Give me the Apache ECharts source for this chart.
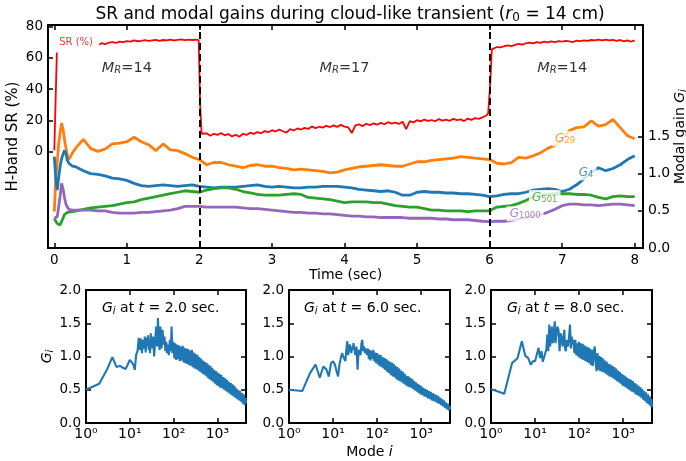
<!DOCTYPE html>
<html><head><meta charset="utf-8">
<script src="https://cdn.jsdelivr.net/npm/echarts@6/dist/echarts.min.js"></script>
<style>html,body{margin:0;padding:0;background:#fff}#c{width:686px;height:461px}</style>
</head><body><div id="c"></div>
<script>
// ---------- Top panel data ----------
const timeTicks = [0,1,2,3,4,5,6,7,8];
const srTicks = [0,20,40,60,80];
const gainTicks = [0,0.5,1.0,1.5];
const transitionTimes = [2, 6];

// SR (%) vs time [t, SR]
const srData = [
[0.0,1],[0.035,63.5],[0.3,null],
[0.62,68.5],[0.65,69.5],[0.70,68.8],[0.75,69.8],[0.80,70.2],[0.85,69.6],[0.90,70.5],[0.95,70.1],[1.00,70.8],[1.05,70.4],
[1.10,71.2],[1.15,70.7],[1.20,71.0],[1.25,71.4],[1.30,70.9],[1.35,71.3],[1.40,71.6],[1.45,71.0],[1.50,71.5],[1.55,71.2],
[1.60,71.8],[1.65,71.3],[1.70,71.6],[1.75,71.9],[1.80,71.4],[1.85,71.7],[1.90,71.5],[1.95,71.8],[1.99,71.4],
[2.01,30],[2.03,11.5],[2.05,10.5],[2.10,11.8],[2.15,10.2],[2.20,11.5],[2.25,10.8],[2.30,12.0],[2.35,10.6],[2.40,11.3],
[2.45,9.8],[2.50,10.9],[2.55,9.6],[2.60,11.5],[2.65,10.7],[2.70,12.2],[2.75,11.4],[2.80,12.6],[2.85,11.8],[2.90,13.2],
[2.95,12.5],[3.00,13.8],[3.05,12.9],[3.10,14.2],[3.15,13.1],[3.20,12.2],[3.25,14.5],[3.30,13.6],[3.35,14.9],[3.40,14.2],
[3.45,15.3],[3.50,14.6],[3.55,16.2],[3.60,15.1],[3.65,16.0],[3.70,15.4],[3.75,16.6],[3.80,15.8],[3.85,16.9],[3.90,15.9],
[3.95,17.2],[4.00,16.1],[4.05,15.6],[4.10,12.0],[4.15,16.8],[4.20,17.5],[4.25,16.4],[4.30,17.9],[4.35,17.0],[4.40,18.2],
[4.45,17.3],[4.50,18.5],[4.55,17.6],[4.60,18.9],[4.65,18.0],[4.70,18.6],[4.75,17.8],[4.80,19.2],[4.85,14.5],[4.90,19.6],
[4.95,18.8],[5.00,20.2],[5.05,19.4],[5.10,20.6],[5.15,19.7],[5.20,20.3],[5.25,19.5],[5.30,20.9],[5.35,19.9],[5.40,20.5],
[5.45,19.8],[5.50,21.0],[5.55,20.2],[5.60,20.7],[5.65,19.6],[5.70,21.2],[5.75,20.4],[5.80,21.5],[5.85,21.0],[5.90,22.0],
[5.95,23.0],[5.98,24.5],[6.01,45],[6.03,65.5],
[6.05,66.3],[6.10,67.0],[6.15,66.8],[6.20,67.5],[6.25,68.0],[6.30,67.6],[6.35,68.4],[6.40,69.0],[6.45,68.5],[6.50,69.4],
[6.55,69.8],[6.60,69.3],[6.65,70.1],[6.70,69.7],[6.75,70.4],[6.80,70.0],[6.85,70.6],[6.90,70.2],[6.95,70.8],[7.00,70.4],
[7.05,71.0],[7.10,70.6],[7.15,70.2],[7.20,71.1],[7.25,70.8],[7.30,71.3],[7.35,71.0],[7.40,71.5],[7.45,71.2],[7.50,71.7],
[7.55,71.3],[7.60,71.8],[7.65,71.2],[7.70,71.6],[7.75,71.0],[7.80,71.5],[7.85,70.6],[7.90,71.3],[7.95,70.4],[8.00,71.2]
];

const gainTime = [
0,0.02,0.04,0.06,0.08,0.1,0.12,0.14,0.16,0.18,
0.2,0.25,0.3,0.4,0.5,0.6,0.7,0.8,0.9,1.0,
1.1,1.2,1.3,1.4,1.5,1.6,1.7,1.8,1.9,2.0,
2.1,2.2,2.3,2.4,2.5,2.6,2.7,2.8,2.9,3.0,
3.1,3.2,3.3,3.4,3.5,3.6,3.7,3.8,3.9,4.0,
4.1,4.2,4.3,4.4,4.5,4.6,4.7,4.8,4.9,5.0,
5.1,5.2,5.3,5.4,5.5,5.6,5.7,5.8,5.9,6.0,
6.1,6.2,6.3,6.4,6.5,6.6,6.7,6.8,6.9,7.0,
7.1,7.2,7.3,7.4,7.5,7.6,7.7,7.8,7.9,8.0
];
const g29 = [
0.49,0.95,1.15,1.40,1.55,1.68,1.60,1.46,1.35,1.25,
1.19,1.28,1.35,1.46,1.34,1.30,1.33,1.40,1.41,1.43,
1.49,1.43,1.39,1.31,1.40,1.32,1.31,1.27,1.22,1.19,
1.12,1.15,1.15,1.12,1.10,1.08,1.11,1.12,1.10,1.10,
1.08,1.07,1.05,1.06,1.05,1.04,1.03,1.01,1.02,1.05,
1.07,1.09,1.10,1.11,1.12,1.11,1.10,1.10,1.13,1.16,
1.16,1.18,1.19,1.20,1.21,1.23,1.22,1.21,1.20,1.19,
1.14,1.13,1.15,1.22,1.21,1.24,1.28,1.34,1.38,1.45,
1.58,1.62,1.63,1.71,1.64,1.66,1.73,1.62,1.51,1.47
];
const g4 = [
1.23,0.95,0.78,0.95,1.10,1.20,1.26,1.31,1.27,1.18,
1.14,1.10,1.09,1.04,1.00,0.99,0.97,0.94,0.93,0.91,
0.87,0.84,0.83,0.84,0.85,0.84,0.83,0.84,0.85,0.83,
0.82,0.81,0.82,0.82,0.82,0.83,0.84,0.85,0.83,0.82,
0.83,0.82,0.81,0.81,0.82,0.82,0.83,0.83,0.83,0.82,
0.81,0.79,0.78,0.77,0.76,0.77,0.75,0.71,0.71,0.75,
0.76,0.75,0.75,0.74,0.74,0.73,0.73,0.72,0.71,0.69,
0.70,0.72,0.73,0.73,0.75,0.78,0.79,0.80,0.79,0.76,
0.79,0.85,0.93,1.02,1.08,1.04,1.07,1.12,1.19,1.24
];
const g501 = [
0.40,0.36,0.33,0.31,0.31,0.31,0.40,0.45,0.47,0.48,
0.48,0.49,0.50,0.52,0.54,0.55,0.56,0.57,0.59,0.61,
0.62,0.65,0.67,0.69,0.71,0.73,0.75,0.77,0.76,0.75,
0.78,0.80,0.81,0.81,0.79,0.76,0.74,0.72,0.71,0.71,
0.71,0.72,0.73,0.72,0.68,0.67,0.66,0.65,0.63,0.61,
0.62,0.62,0.62,0.61,0.61,0.59,0.57,0.56,0.55,0.55,
0.53,0.51,0.51,0.50,0.50,0.50,0.49,0.50,0.50,0.50,
0.55,0.56,0.57,0.60,0.64,0.69,0.71,0.72,0.73,0.73,
0.73,0.72,0.72,0.71,0.68,0.66,0.69,0.70,0.69,0.69
];
const g1000 = [
0.40,0.38,0.42,0.55,0.70,0.87,0.80,0.68,0.59,0.55,
0.52,0.51,0.51,0.51,0.51,0.50,0.50,0.48,0.47,0.47,
0.47,0.48,0.48,0.49,0.50,0.51,0.53,0.56,0.56,0.56,
0.55,0.55,0.55,0.55,0.55,0.54,0.53,0.53,0.52,0.51,
0.50,0.49,0.48,0.48,0.47,0.47,0.46,0.46,0.45,0.44,
0.43,0.43,0.42,0.42,0.41,0.41,0.41,0.41,0.40,0.40,
0.40,0.40,0.39,0.39,0.38,0.38,0.38,0.37,0.36,0.355,
0.36,0.36,0.37,0.39,0.41,0.43,0.45,0.48,0.52,0.57,
0.59,0.59,0.58,0.58,0.57,0.58,0.59,0.59,0.58,0.57
];

// inline labels (data coordinates)
const srLabelPos = [0.30, 70.2];
const gainLabelTime = [7.04, 7.33, 6.76, 6.49];
const gainLabelValue = [1.47, 1.01, 0.68, 0.46];
const gainLabelSub = ['29', '4', '501', '1000'];
const mrTime = [1.0, 4.0, 7.0];
const mrValue = [53.6, 53.6, 53.6];
const mrText = ['14', '17', '14'];

// ---------- Bottom panels data ----------
const modeTicks = [1, 10, 100, 1000];
const modalTickLabels = ['0.0', '0.5', '1.0', '1.5', '2.0'];
const snapshotTimes = ['2.0', '6.0', '8.0'];
const modes = [
1,2,3,4,5,6,7,8,9,10,11,12,13,14,15,16,17,18,19,20,
21,22,23,24,25,26,27,28,29,30,
32,34,36,38,40,42,44,46,48,50,
53,56,59,
62,65,68,71,74,78,82,86,90,94,
99,104,109,114,120,126,132,139,146,153,161,169,177,186,195,
205,215,226,237,249,261,274,288,302,
317,333,350,367,385,404,424,445,467,490,
515,541,568,596,626,657,690,724,760,798,838,880,924,970,
1018,1069,1122,1178,1237,1299,1364,1432,1504,1579,1658,1741,1828,1919,
2015,2116,2222,2333,2450,2572,2701,2836,
2978,3127,3283,3447,3619,3800,3990,4190,4400,4500
];
const gainsT2 = [
0.50,0.59,0.80,0.99,0.84,0.86,0.83,0.81,0.88,0.95,0.94,0.88,0.80,1.03,1.08,1.28,1.10,1.27,1.05,1.25,
1.12,1.30,1.06,1.28,1.15,1.32,1.10,1.25,1.05,1.35,
1.12,1.30,1.00,1.25,1.45,1.15,1.58,1.20,1.10,1.45,
1.12,1.40,1.18,
1.30,1.08,1.22,1.05,1.18,1.02,1.25,1.08,1.45,1.05,
1.22,0.97,1.20,0.95,1.18,0.96,1.17,0.93,1.15,0.94,1.16,0.91,1.13,0.90,1.12,
0.89,1.11,0.87,1.09,0.86,1.10,0.84,1.06,0.82,
1.04,0.81,1.02,0.79,0.99,0.77,0.97,0.75,0.94,0.73,
0.92,0.71,0.90,0.68,0.88,0.66,0.86,0.64,0.83,0.62,0.80,0.59,0.78,0.57,
0.76,0.55,0.74,0.53,0.72,0.52,0.69,0.50,0.67,0.48,0.65,0.46,0.62,0.44,
0.60,0.42,0.58,0.40,0.56,0.38,0.52,0.36,
0.50,0.34,0.48,0.32,0.45,0.29,0.43,0.27,0.38,0.30
];
const gainsT6 = [
0.50,0.48,0.75,0.88,0.68,0.85,0.81,0.70,0.90,0.93,0.88,0.78,0.70,0.88,0.98,1.05,1.00,1.03,0.93,1.10,
1.23,1.02,1.00,1.18,1.20,1.05,1.15,1.10,1.20,1.18,
1.02,1.15,0.80,1.10,1.13,1.02,1.20,1.25,1.08,1.15,
1.05,1.12,1.02,
1.12,0.96,1.10,0.94,1.08,0.97,1.10,0.93,1.06,0.90,
1.05,0.88,1.03,0.86,1.02,0.84,0.99,0.82,0.98,0.80,0.96,0.77,0.94,0.75,0.92,
0.72,0.91,0.70,0.89,0.69,0.86,0.66,0.84,0.64,
0.82,0.63,0.79,0.61,0.77,0.59,0.74,0.57,0.71,0.55,
0.70,0.54,0.68,0.53,0.66,0.51,0.63,0.49,0.61,0.47,0.59,0.45,0.57,0.43,
0.55,0.42,0.53,0.40,0.51,0.39,0.50,0.37,0.48,0.36,0.47,0.34,0.45,0.33,
0.43,0.32,0.42,0.30,0.40,0.29,0.38,0.27,
0.36,0.25,0.34,0.23,0.31,0.21,0.29,0.19,0.26,0.20
];
const gainsT8 = [
0.51,0.44,0.90,0.975,1.23,1.01,0.975,0.875,0.93,0.93,0.92,1.13,0.975,1.08,0.92,0.95,1.05,1.10,1.33,1.08,
1.48,1.15,1.30,1.45,1.20,1.25,1.40,1.53,1.20,1.28,
1.45,1.40,1.08,1.35,1.30,1.15,1.25,1.40,1.12,1.08,
1.25,1.15,1.30,
1.48,1.12,1.30,1.18,1.25,1.05,1.25,1.02,1.20,1.00,
1.22,0.98,1.20,0.96,1.19,0.95,1.17,0.93,1.15,0.92,1.14,0.90,1.12,0.87,1.10,
0.86,1.08,1.15,0.90,0.78,1.05,0.80,1.01,0.78,
0.99,0.77,0.97,0.76,0.94,0.74,0.92,0.72,0.89,0.70,
0.88,0.69,0.86,0.67,0.84,0.65,0.82,0.63,0.79,0.61,0.77,0.59,0.74,0.56,
0.72,0.55,0.70,0.53,0.68,0.51,0.66,0.49,0.65,0.47,0.63,0.46,0.60,0.43,
0.58,0.42,0.56,0.40,0.54,0.38,0.51,0.35,
0.48,0.33,0.46,0.30,0.43,0.28,0.40,0.25,0.36,0.24
];

// ---------- Chart ----------
const F = 'DejaVu Sans';
const BLACK = '#000';
const COLORS = {sr:'#ff0000', g29:'#ff7f0e', g4:'#1f77b4', g501:'#2ca02c', g1000:'#9467bd'};

function mkRich(size, color) {
  return {
    it:   {fontFamily:F, fontSize:size, fontStyle:'italic', color:color},
    rm:   {fontFamily:F, fontSize:size, color:color},
    sub:  {fontFamily:F, fontSize:Math.round(size*0.7), color:color, verticalAlign:'bottom', lineHeight:Math.round(size*1.05)},
    isub: {fontFamily:F, fontSize:Math.round(size*0.7), fontStyle:'italic', color:color, verticalAlign:'bottom', lineHeight:Math.round(size*1.05)}
  };
}
const lineAxis = {show:true, onZero:false, lineStyle:{color:BLACK, width:2}};
const tickStyle = (vals) => ({show:true, inside:true, length:5, customValues:vals, lineStyle:{color:BLACK, width:1.5}});
const tickStyleAuto = {show:true, inside:true, length:5, lineStyle:{color:BLACK, width:1.5}};

const grids = [
  {left:48, top:25, width:595, height:223, outerBoundsMode:'none', containLabel:false},
  {left:86, top:290, width:160, height:133, outerBoundsMode:'none', containLabel:false},
  {left:289, top:290, width:161, height:133, outerBoundsMode:'none', containLabel:false},
  {left:491, top:290, width:161, height:133, outerBoundsMode:'none', containLabel:false}
];

const xAxes = [
  {gridIndex:0, type:'value', min:-0.087, max:8.114, position:'bottom',
   axisLine:lineAxis, axisTick:tickStyle(timeTicks), splitLine:{show:false},
   axisLabel:{customValues:timeTicks, margin:5, fontFamily:F, fontSize:13.5, color:BLACK},
   name:'Time (sec)', nameLocation:'middle', nameGap:20, nameMoveOverlap:false,
   nameTextStyle:{fontFamily:F, fontSize:14, color:BLACK}},
  {gridIndex:0, type:'value', min:-0.087, max:8.114, position:'top',
   axisLine:lineAxis, axisTick:tickStyle(timeTicks), splitLine:{show:false}, axisLabel:{show:false}}
];
const yAxes = [
  {gridIndex:0, type:'value', min:-61.6, max:81.1, position:'left',
   axisLine:lineAxis, axisTick:tickStyle(srTicks), splitLine:{show:false},
   axisLabel:{customValues:srTicks, margin:5, fontFamily:F, fontSize:13.5, color:BLACK},
   name:'H-band SR (%)', nameLocation:'middle', nameGap:27, nameRotate:90, nameMoveOverlap:false,
   nameTextStyle:{fontFamily:F, fontSize:15, color:BLACK}},
  {gridIndex:0, type:'value', min:0, max:3, position:'right',
   axisLine:lineAxis, axisTick:tickStyle(gainTicks), splitLine:{show:false},
   axisLabel:{customValues:gainTicks, margin:5, fontFamily:F, fontSize:14, color:BLACK,
              formatter:(v)=>Number(v).toFixed(1)},
   name:'Modal gain {it|G}{isub|i}', nameLocation:'middle', nameGap:30, nameRotate:90, nameMoveOverlap:false,
   nameTextStyle:{fontFamily:F, fontSize:14, color:BLACK, rich:mkRich(14, BLACK)}}
];
const supDigits = ['\u2070','\u00b9','\u00b2','\u00b3'];
for (let p = 0; p < 3; p++) {
  const gi = p + 1;
  const bx = {gridIndex:gi, type:'log', logBase:10, min:1, max:4500, position:'bottom',
    axisLine:lineAxis, axisTick:tickStyle(modeTicks), splitLine:{show:false}, minorTick:{show:false},
    axisLabel:{customValues:modeTicks, margin:4, fontFamily:F, fontSize:14, color:BLACK,
      formatter:(v)=>'10' + supDigits[Math.round(Math.log10(v))]}};
  if (p === 1) {
    bx.name = 'Mode {it|i}'; bx.nameLocation = 'middle'; bx.nameGap = 22; bx.nameMoveOverlap = false;
    bx.nameTextStyle = {fontFamily:F, fontSize:14, color:BLACK, rich:mkRich(14, BLACK)};
  }
  xAxes.push(bx);
  const by = {gridIndex:gi, type:'value', min:0, max:2, interval:0.5, position:'left',
    axisLine:lineAxis, axisTick:tickStyleAuto, splitLine:{show:false},
    axisLabel:{margin:5, fontFamily:F, fontSize:13.5, color:BLACK,
      formatter:(v)=>modalTickLabels[Math.round(v*2)]}};
  if (p === 0) {
    by.name = '{it|G}{isub|i}'; by.nameLocation = 'middle'; by.nameGap = 31; by.nameRotate = 90; by.nameMoveOverlap = false;
    by.nameTextStyle = {fontFamily:F, fontSize:14, color:BLACK, rich:mkRich(14, BLACK)};
  }
  yAxes.push(by);
}
for (let p = 0; p < 3; p++) {
  const gi = p + 1;
  xAxes.push({gridIndex:gi, type:'log', logBase:10, min:1, max:4500, position:'top',
    axisLine:lineAxis, axisTick:tickStyle(modeTicks), splitLine:{show:false}, axisLabel:{show:false}});
  yAxes.push({gridIndex:gi, type:'value', min:0, max:2, interval:0.5, position:'right',
    axisLine:lineAxis, axisTick:tickStyleAuto, splitLine:{show:false}, axisLabel:{show:false}});
}

const pair = (ts, vs) => ts.map((t, i) => [t, vs[i]]);
const gainLine = (name, vals, color) => ({
  type:'line', name, xAxisIndex:0, yAxisIndex:1, data:pair(gainTime, vals),
  showSymbol:false, symbol:'none', lineStyle:{color, width:2.8}, itemStyle:{color}, z:2
});

const series = [
  {type:'line', name:'SR', xAxisIndex:0, yAxisIndex:0,
   data:srData.map(d => [d[0], d[1] === null ? '-' : d[1]]),
   showSymbol:false, symbol:'none', connectNulls:false,
   lineStyle:{color:COLORS.sr, width:1.8}, itemStyle:{color:COLORS.sr}, z:2},
  gainLine('G29', g29, COLORS.g29),
  gainLine('G4', g4, COLORS.g4),
  gainLine('G501', g501, COLORS.g501),
  Object.assign(gainLine('G1000', g1000, COLORS.g1000), {
    markLine:{silent:true, symbol:'none', animation:false, label:{show:false},
      lineStyle:{color:BLACK, width:2, type:[7,4]},
      data:transitionTimes.map(t => ({xAxis:t}))}
  }),
  // SR label
  {type:'scatter', xAxisIndex:0, yAxisIndex:0, data:[srLabelPos], symbolSize:1, z:5,
   itemStyle:{color:'rgba(0,0,0,0)'},
   label:{show:true, position:'inside', formatter:'SR (%)', fontFamily:F, fontSize:10, color:COLORS.sr,
          backgroundColor:'#fff', padding:[1,2]}},
  // M_R labels
  {type:'scatter', xAxisIndex:0, yAxisIndex:0, data:pair(mrTime, mrValue),
   symbolSize:1, z:5, itemStyle:{color:'rgba(0,0,0,0)'},
   label:{show:true, position:'inside', fontFamily:F, fontSize:14, color:BLACK,
     formatter:(p)=>'{it|M}{isub|R}{rm|=' + mrText[p.dataIndex] + '}', rich:mkRich(14.5, BLACK)}},
  // gain labels
  {type:'scatter', xAxisIndex:0, yAxisIndex:1, data:pair(gainLabelTime, gainLabelValue),
   symbolSize:1, z:6, itemStyle:{color:'rgba(0,0,0,0)'},
   label:{show:true, position:'inside', fontFamily:F, fontSize:12,
     backgroundColor:'#fff', padding:[1,3],
     formatter:(p)=>{ const c = ['a','b','c','d'][p.dataIndex]; return '{' + c + '|G}{' + c + 's|' + gainLabelSub[p.dataIndex] + '}'; },
     rich:{
       a:{fontFamily:F, fontSize:12, fontStyle:'italic', color:COLORS.g29},
       as:{fontFamily:F, fontSize:8.5, color:COLORS.g29, verticalAlign:'bottom', lineHeight:13},
       b:{fontFamily:F, fontSize:12, fontStyle:'italic', color:COLORS.g4},
       bs:{fontFamily:F, fontSize:8.5, color:COLORS.g4, verticalAlign:'bottom', lineHeight:13},
       c:{fontFamily:F, fontSize:12, fontStyle:'italic', color:COLORS.g501},
       cs:{fontFamily:F, fontSize:8.5, color:COLORS.g501, verticalAlign:'bottom', lineHeight:13},
       d:{fontFamily:F, fontSize:12, fontStyle:'italic', color:COLORS.g1000},
       ds:{fontFamily:F, fontSize:8.5, color:COLORS.g1000, verticalAlign:'bottom', lineHeight:13}
     }}}
];
[gainsT2, gainsT6, gainsT8].forEach((vals, p) => {
  series.push({type:'line', xAxisIndex:p+2, yAxisIndex:p+2, data:pair(modes, vals),
    showSymbol:false, symbol:'none', lineStyle:{color:'#1f77b4', width:2.1}, itemStyle:{color:'#1f77b4'}});
});

const titles = [
  {text:'SR and modal gains during cloud-like transient ({it|r}{sub|0} = 14 cm)', left:345, top:1, textAlign:'center',
   textStyle:{fontFamily:F, fontSize:17, fontWeight:'normal', color:BLACK, rich:mkRich(17, BLACK)}}
];
const panelLeft = [97, 299, 502];
snapshotTimes.forEach((t, p) => {
  titles.push({text:'{it|G}{isub|i} at {it|t} = ' + t + ' sec.', left:panelLeft[p], top:296,
    textStyle:{fontFamily:F, fontSize:14, fontWeight:'normal', color:BLACK, rich:mkRich(14, BLACK)}});
});

const chart = echarts.init(document.getElementById('c'), null, {renderer:'canvas'});
chart.setOption({
  animation:false,
  backgroundColor:'#fff',
  textStyle:{fontFamily:F},
  title:titles,
  grid:grids,
  xAxis:xAxes,
  yAxis:yAxes,
  series:series
});
</script></body></html>
